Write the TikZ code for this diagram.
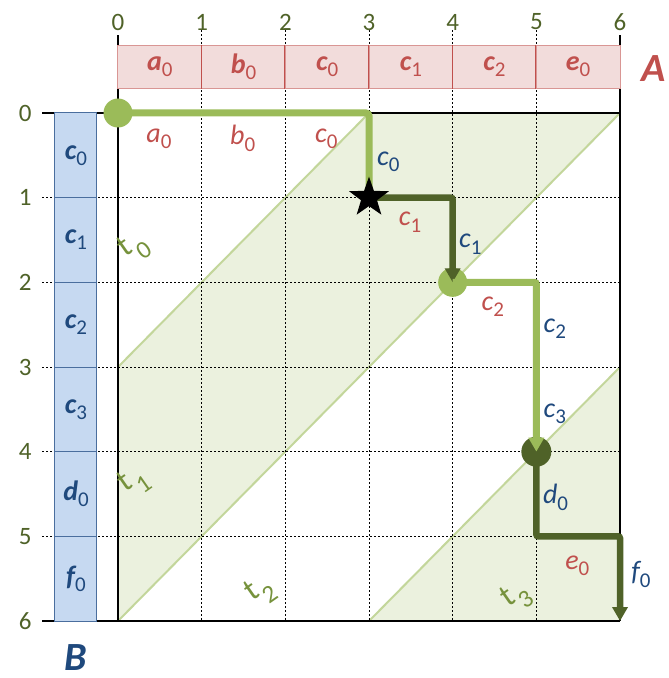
\documentclass[tikz,border=0pt]{standalone}
\usepackage{fontspec}
\setmainfont{Carlito}
\usetikzlibrary{arrows.meta,shapes.geometric}
\definecolor{lg}{HTML}{9BBB59}
\definecolor{dg}{HTML}{4F6228}
\definecolor{shadef}{HTML}{EBF1DE}
\definecolor{shadel}{HTML}{C3D69B}
\definecolor{pinkf}{HTML}{F2DCDB}
\definecolor{pinkd}{HTML}{D99694}
\definecolor{redt}{HTML}{C0504D}
\definecolor{bluef}{HTML}{C6D9F1}
\definecolor{blued}{HTML}{4A6E9E}
\definecolor{bluet}{HTML}{1F497D}
\definecolor{numc}{HTML}{4F6228}
\definecolor{tcol}{HTML}{76923C}
\newcommand\sbs[1]{\raisebox{-0.22em}{\fontsize{21}{21}\selectfont\mdseries\upshape #1}}
\newcommand\hl[2]{{\bfseries\itshape #1}\sbs{#2}}
\newcommand\pl[2]{{\itshape #1}\sbs{#2}}
\newcommand\tlab[1]{\rotatebox{35}{t}\kern-1pt\raisebox{-0.08em}{\rotatebox{35}{\fontsize{25}{25}\selectfont #1}}}
\begin{document}
\begin{tikzpicture}[x=83.67pt,y=-84.67pt,
  num/.style={text=numc,font=\fontsize{25}{25}\selectfont,inner sep=0},
  hcell/.style={draw=pinkd,line width=1pt,fill=pinkf,minimum width=83.67pt,minimum height=43pt,inner sep=0,text=redt,font=\fontsize{28}{28}\selectfont},
  vcell/.style={draw=blued,line width=1pt,fill=bluef,minimum width=42pt,minimum height=84.67pt,inner sep=0,text=bluet,font=\fontsize{28}{28}\selectfont},
  dotline/.style={black,line width=0.9pt,dash pattern=on 2pt off 2pt},
  axisline/.style={black,line width=1.6pt},
  diag/.style={shadel,line width=2pt},
  rlab/.style={text=redt,font=\fontsize{28}{28}\selectfont,inner sep=0},
  blab/.style={text=bluet,font=\fontsize{28}{28}\selectfont,inner sep=0},
  tl/.style={text=tcol,font=\fontsize{32}{32}\selectfont,inner sep=0},
  lgline/.style={lg,line width=7pt},
  dgline/.style={dg,line width=6.5pt},
  tip/.style={-{Triangle[width=15pt,length=14pt]}},
  dot/.style={circle,minimum size=29pt,inner sep=0},
  big/.style={font=\fontsize{40}{40}\selectfont\bfseries\itshape,inner sep=0,anchor=base}
]
\useasboundingbox (-1.4103,-1.3346) rectangle (6.5854,6.673);
% shaded regions
\fill[shadef] (3,0) -- (6,0) -- (0,6) -- (0,3) -- cycle;
\fill[shadef] (6,3) -- (6,6) -- (3,6) -- cycle;
\draw[diag] (0,3) -- (3,0);
\draw[diag] (6,0) -- (0,6);
\draw[diag] (6,3) -- (3,6);
% grid
\foreach \i in {1,...,5} {
  \draw[dotline] (\i,-0.98) -- (\i,6);
  \draw[dotline] (-0.908,\i) -- (6,\i);
}
\draw[axisline] (0,-0.92) -- (0,6);
\draw[axisline] (6,-0.92) -- (6,6);
\draw[axisline] (-0.908,0) -- (6,0);
\draw[axisline] (-0.908,6) -- (6,6);
% header A
\node[hcell] (h0) at (0.5,-0.549) {\hl{a}{0}};
\node[hcell] (h1) at (1.5,-0.549) {\hl{b}{0}};
\node[hcell] (h2) at (2.5,-0.549) {\hl{c}{0}};
\node[hcell] (h3) at (3.5,-0.549) {\hl{c}{1}};
\node[hcell] (h4) at (4.5,-0.549) {\hl{c}{2}};
\node[hcell] (h5) at (5.5,-0.549) {\hl{e}{0}};
\foreach \i in {1,...,5} \draw[redt,line width=1pt] (h\i.north west) -- (h\i.south west);
% column B
\node[vcell] (v0) at (-0.502,0.5) {\hl{c}{0}};
\node[vcell] (v1) at (-0.502,1.5) {\hl{c}{1}};
\node[vcell] (v2) at (-0.502,2.5) {\hl{c}{2}};
\node[vcell] (v3) at (-0.502,3.5) {\hl{c}{3}};
\node[vcell] (v4) at (-0.502,4.5) {\hl{d}{0}};
\node[vcell] (v5) at (-0.502,5.5) {\hl{f}{0}};
% numbers
\foreach \i in {0,...,6} {
  \node[num] (cn\i) at (\i,-1.075) {\i};
  \node[num] (rn\i) at (-1.11,\i) {\i};
}
\node[big,text=redt] (A) at (6.40,-0.37) {A};
\node[big,text=bluet] (B) at (-0.50,6.58) {B};
% t labels
\node[tl] (t0) at (0.19,1.59) {\tlab{0}};
\node[tl] (t1) at (0.19,4.36) {\tlab{1}};
\node[tl] (t2) at (1.70,5.65) {\tlab{2}};
\node[tl] (t3) at (4.76,5.72) {\tlab{3}};
% path
\node[dot,fill=lg] (s) at (0,0) {};
\node[dot,fill=lg] (m1) at (4,2) {};
\node[dot,fill=dg,minimum size=30pt] (m2) at (5,4) {};
\coordinate (k1) at (3,0);
\coordinate (k2) at (4,1);
\coordinate (k3) at (5,2);
\coordinate (k4) at (5,5);
\coordinate (k5) at (6,5);
\coordinate (k6) at (6,6);
\node[star,star points=5,star point ratio=2.5,minimum size=42pt,inner sep=0] (st) at (3,1) {};
\draw[lgline,rounded corners=3pt] (s.center) -- (k1) -- (st.center);
\draw[dgline,tip,rounded corners=2pt] (st.center) -- (k2) -- (m1.center);
\draw[lgline,tip,rounded corners=2pt] (m1.center) -- (k3) -- (m2.center);
\draw[dgline,tip,rounded corners=2pt] (m2.center) -- (k4) -- (k5) -- (k6);
\node[star,star points=5,star point ratio=2.5,minimum size=42pt,inner sep=0,fill=black] (stf) at (3,1) {};
% path labels
\node[rlab] (la0) at (0.49,0.30) {\pl{a}{0}};
\node[rlab] (lb0) at (1.49,0.30) {\pl{b}{0}};
\node[rlab] (lc0) at (2.49,0.30) {\pl{c}{0}};
\node[blab] (mc0) at (3.23,0.58) {\pl{c}{0}};
\node[rlab] (lc1) at (3.49,1.29) {\pl{c}{1}};
\node[blab] (mc1) at (4.21,1.55) {\pl{c}{1}};
\node[rlab] (lc2) at (4.48,2.29) {\pl{c}{2}};
\node[blab] (mc2) at (5.22,2.55) {\pl{c}{2}};
\node[blab] (mc3) at (5.22,3.55) {\pl{c}{3}};
\node[blab] (md0) at (5.23,4.54) {\pl{d}{0}};
\node[rlab] (le0) at (5.49,5.35) {\pl{e}{0}};
\node[blab] (mf0) at (6.25,5.45) {\pl{f}{0}};
\end{tikzpicture}
\end{document}
